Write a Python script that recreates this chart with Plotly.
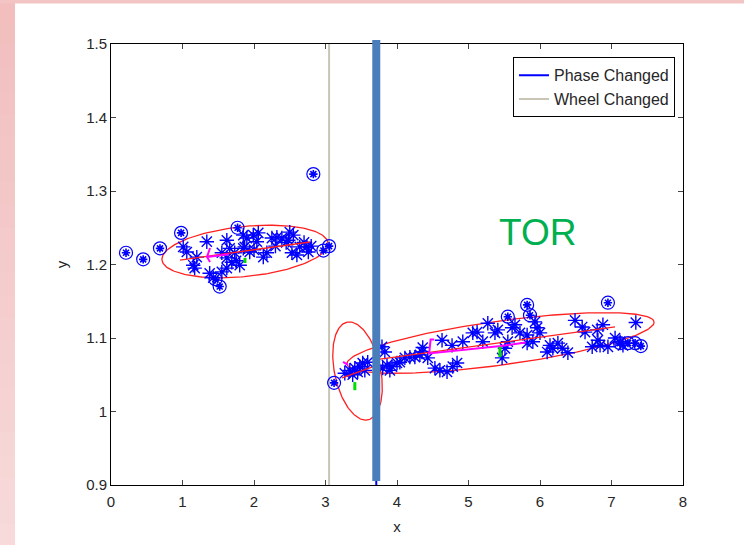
import numpy as np
import plotly.graph_objects as go

# ---- axis extents and ticks ----
X_RANGE = [0, 8]
Y_RANGE = [0.9, 1.5]
X_TICKS = [0, 1, 2, 3, 4, 5, 6, 7, 8]
Y_TICKS = [0.9, 1.0, 1.1, 1.2, 1.3, 1.4, 1.5]

# ---- observations (asterisks) ----
star_x = [1.01, 1.06, 1.15, 1.17, 1.34, 1.38, 1.43, 1.62, 1.66, 1.62, 1.69, 1.73,
          1.80, 1.62, 1.87, 1.85, 1.55, 1.90, 1.85, 1.99, 2.06, 2.04, 1.94, 2.18,
          2.13, 2.32, 2.39, 2.50, 2.48, 2.55, 2.53, 2.60, 2.74, 2.76, 2.64, 2.25,
          1.20, 2.00, 2.30, 2.45, 2.70, 2.80, 1.75, 1.55,
          3.27, 3.34, 3.41, 3.48, 3.52, 3.59, 3.38, 3.45, 3.55, 3.79, 3.83, 3.86,
          3.93, 4.00, 4.04, 4.11, 4.18, 4.25, 4.32, 4.35, 3.80, 3.90, 4.36, 4.43,
          4.53, 4.60, 4.70, 4.78, 4.84, 4.63, 4.77, 4.92, 5.06, 5.20, 5.27, 5.37,
          5.41, 5.47, 5.51, 5.55, 5.61, 5.65, 5.72, 5.82, 5.82, 5.93, 5.96, 6.00,
          5.90, 6.14, 6.18, 6.25, 6.31, 6.10, 6.39, 6.49, 6.59, 6.63, 6.80, 6.88,
          6.81, 6.73, 6.84, 6.95, 7.05, 7.12, 7.16, 7.34, 5.12]
star_y = [1.224, 1.217, 1.199, 1.195, 1.231, 1.188, 1.182, 1.233, 1.222, 1.209, 1.203, 1.216,
          1.199, 1.195, 1.224, 1.240, 1.216, 1.236, 1.222, 1.240, 1.243, 1.231, 1.217, 1.216,
          1.210, 1.237, 1.236, 1.244, 1.233, 1.240, 1.216, 1.213, 1.224, 1.217, 1.224, 1.236,
          1.210, 1.220, 1.225, 1.230, 1.230, 1.225, 1.205, 1.190,
          1.052, 1.056, 1.059, 1.061, 1.066, 1.067, 1.050, 1.054, 1.056, 1.088, 1.081, 1.063,
          1.061, 1.066, 1.067, 1.073, 1.074, 1.074, 1.077, 1.081, 1.059, 1.056, 1.087, 1.073,
          1.059, 1.056, 1.054, 1.061, 1.066, 1.097, 1.090, 1.095, 1.107, 1.095, 1.120, 1.107,
          1.111, 1.073, 1.086, 1.095, 1.114, 1.118, 1.107, 1.104, 1.093, 1.122, 1.114, 1.107,
          1.095, 1.090, 1.086, 1.093, 1.086, 1.081, 1.080, 1.124, 1.115, 1.108, 1.111, 1.118,
          1.097, 1.088, 1.090, 1.088, 1.100, 1.095, 1.090, 1.121, 1.108]

# ---- flagged observations (ringed) ----
ring_x = [0.21, 0.45, 0.685, 0.98, 1.77, 2.83, 1.46, 1.52, 2.97, 3.05,
          3.12, 5.55, 5.82, 5.86, 6.95, 7.12, 7.23, 7.33, 7.41]
ring_y = [1.216, 1.207, 1.222, 1.243, 1.250, 1.323, 1.180, 1.170, 1.219, 1.225,
          1.039, 1.129, 1.145, 1.131, 1.148, 1.093, 1.093, 1.093, 1.089]

# ---- confidence ellipses: centre, major half-vector, minor half-vector ----
ell_cx = [1.874, 3.448, 5.448]
ell_cy = [1.2177, 1.0551, 1.0932]
ell_ax = [1.161, -0.1454, 2.1476]
ell_ay = [0.01157, 0.0665, 0.02876]
ell_bx = [-0.0357, -0.3147, -0.042]
ell_by = [0.03384, -0.0065, 0.02965]

# ---- principal-axis segments ----
axis_x = [[0.965, 2.783], [3.231, 3.650], [3.762, 7.049]]
axis_y = [[1.2061, 1.2306], [1.0456, 1.0605], [1.0714, 1.1150]]

# ---- mean paths ----
mean_x = [[1.385, 1.343, 1.385], [1.343, 1.65],
          [3.245, 3.315], [4.52, 4.47, 4.45, 5.45, 5.80]]
mean_y = [[1.2225, 1.2102, 1.2034], [1.2102, 1.2140],
          [1.0674, 1.0633], [1.098, 1.098, 1.079, 1.089, 1.094]]

# ---- segment markers ----
mark_x = [1.874, 3.41, 5.44]
mark_y0 = [1.202, 1.029, 1.074]
mark_y1 = [1.209, 1.040, 1.088]

# ---- change events ----
phase_change_x = 3.71
wheel_change_x = 3.05

FONT = "Liberation Sans, Arial, sans-serif"
BLUE = "#0000ff"

fig = go.Figure()

# event lines (these also populate the legend)
fig.add_trace(go.Scatter(x=[phase_change_x, phase_change_x], y=Y_RANGE, mode="lines",
                         line=dict(color=BLUE, width=2), name="Phase Changed"))
fig.add_trace(go.Scatter(x=[wheel_change_x, wheel_change_x], y=Y_RANGE, mode="lines",
                         line=dict(color="#c9c5b6", width=2), name="Wheel Changed"))

# ellipses
t = np.linspace(0, 2 * np.pi, 200)
for cx, cy, ax_, ay_, bx_, by_ in zip(ell_cx, ell_cy, ell_ax, ell_ay, ell_bx, ell_by):
    ex = cx + ax_ * np.cos(t) + bx_ * np.sin(t)
    ey = cy + ay_ * np.cos(t) + by_ * np.sin(t)
    fig.add_trace(go.Scatter(x=ex, y=ey, mode="lines", showlegend=False,
                             line=dict(color="#ff2020", width=1.3)))

# observations
fig.add_trace(go.Scatter(x=star_x, y=star_y, mode="markers", showlegend=False,
                         marker=dict(symbol="asterisk-open", size=12, color=BLUE,
                                     line=dict(color=BLUE, width=1.4))))
fig.add_trace(go.Scatter(x=ring_x, y=ring_y, mode="markers", showlegend=False,
                         marker=dict(symbol="asterisk-open", size=7, color=BLUE,
                                     line=dict(color=BLUE, width=1.6))))
fig.add_trace(go.Scatter(x=ring_x, y=ring_y, mode="markers", showlegend=False,
                         marker=dict(symbol="circle-open", size=13, color=BLUE,
                                     line=dict(color=BLUE, width=1.2))))

# principal axes
for xs, ys in zip(axis_x, axis_y):
    fig.add_trace(go.Scatter(x=xs, y=ys, mode="lines", showlegend=False,
                             line=dict(color="#ff2020", width=1.3)))

# mean paths
for xs, ys in zip(mean_x, mean_y):
    fig.add_trace(go.Scatter(x=xs, y=ys, mode="lines", showlegend=False,
                             line=dict(color="#ff00ff", width=2)))

# segment markers
for mx, y0, y1 in zip(mark_x, mark_y0, mark_y1):
    fig.add_trace(go.Scatter(x=[mx, mx], y=[y0, y1], mode="lines", showlegend=False,
                             line=dict(color="#00dd00", width=3)))

shapes = []
# slide background: pink band on the left (vertical gradient) and along the top
n_bands = 24
y_top, y_bot = 1.0 + 44 / 441, -61 / 441
c_top = np.array([242, 190, 190])
c_bot = np.array([248, 218, 218])
step = (y_bot - y_top) / n_bands
for i in range(n_bands):
    f = i / (n_bands - 1)
    c = (c_top + (c_bot - c_top) * f).astype(int)
    ya = y_top + step * i
    yb = y_top + step * (i + 1) + step * 0.3
    shapes.append(dict(type="rect", xref="paper", yref="paper",
                       x0=-112 / 572, x1=-96 / 572, y0=yb, y1=ya,
                       fillcolor=f"rgb({c[0]},{c[1]},{c[2]})", line=dict(width=0),
                       layer="below"))
shapes.append(dict(type="rect", xref="paper", yref="paper",
                   x0=-112 / 572, x1=1 + 62 / 572, y0=1 + 40.5 / 441, y1=1 + 45 / 441,
                   fillcolor="rgb(243,196,196)", line=dict(width=0), layer="below"))
# highlighted phase-change bar
shapes.append(dict(type="line", xref="x", yref="paper",
                   x0=phase_change_x, x1=phase_change_x, y0=4 / 441, y1=1 + 4 / 441,
                   line=dict(color="#4a7ebb", width=8), layer="above"))

fig.update_layout(
    width=744, height=545,
    margin=dict(l=111, r=61, t=44, b=60),
    paper_bgcolor="white", plot_bgcolor="white",
    font=dict(family=FONT, size=15, color="#262626"),
    shapes=shapes,
    showlegend=True,
    legend=dict(x=0.986, y=0.97, xanchor="right", yanchor="top",
                bgcolor="white", bordercolor="black", borderwidth=1,
                font=dict(family=FONT, size=16, color="#262626"),
                tracegroupgap=0),
    annotations=[dict(x=5.96, y=1.243, xref="x", yref="y", text="TOR",
                      showarrow=False, font=dict(family=FONT, size=37, color="#00b050"))],
)
fig.update_xaxes(range=X_RANGE, tickvals=X_TICKS, ticks="inside", ticklen=5,
                 showline=True, linecolor="black", linewidth=1, mirror="ticks",
                 showgrid=False, zeroline=False, ticklabelstandoff=3,
                 title=dict(text="x", font=dict(size=15), standoff=12))
fig.update_yaxes(range=Y_RANGE, tickvals=Y_TICKS, ticks="inside", ticklen=5,
                 showline=True, linecolor="black", linewidth=1, mirror="ticks",
                 showgrid=False, zeroline=False,
                 title=dict(text="y", font=dict(size=15), standoff=14))

fig.write_html("out.html")
